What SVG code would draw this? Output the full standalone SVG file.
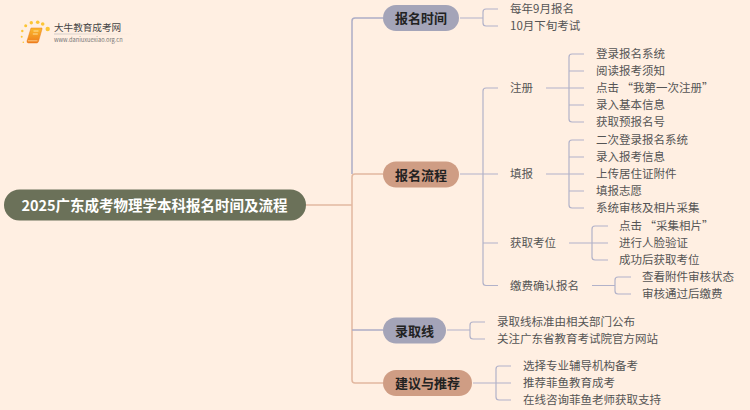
<svg xmlns="http://www.w3.org/2000/svg" width="750" height="410" viewBox="0 0 750 410">
<defs>
<linearGradient id="bk" x1="0" y1="0" x2="0" y2="1"><stop offset="0" stop-color="#fbb92c"/><stop offset="1" stop-color="#ee7c1c"/></linearGradient>
<linearGradient id="ul" x1="0" y1="0" x2="1" y2="0"><stop offset="0" stop-color="#bbb" stop-opacity="0.7"/><stop offset="1" stop-color="#bbb" stop-opacity="0"/></linearGradient>
</defs>
<style>
text{font-family:"Noto Sans CJK SC","Liberation Sans",sans-serif;dominant-baseline:central}
.t{font-size:11.5px;fill:#555}
.b{font-size:13px;font-weight:700;fill:#222;text-anchor:middle}
.c{fill:none;stroke-width:1.2;stroke:#b2b2c9}
.p{fill:none;stroke-width:1.5;stroke:#e2b8a0}
.u{fill:none;stroke-width:1.5;stroke:#adadc6}
</style>
<rect width="750" height="410" fill="#ffefe2"/>
<g id="logo">
<g fill="#fcc534"><circle cx="47.700" cy="29" r="2.200"/><circle cx="42.700" cy="24" r="1.800"/><circle cx="37.700" cy="22.300" r="1.800"/><circle cx="31.300" cy="22.700" r="1.700"/><circle cx="25.700" cy="25.700" r="1.500"/><circle cx="22.300" cy="31" r="1.200"/><circle cx="21.700" cy="36.700" r="1"/><circle cx="23.300" cy="42.300" r="0.800"/></g>
<path d="M31 28H42V29L38.500 41.500Q38 43 36.500 43H28.500Q26.500 43 27 41Z" fill="url(#bk)" stroke="#ea7f1c" stroke-width="0.500"/>
<path d="M33.500 31H38.500M32.800 34H37.800" stroke="#ffe6a8" stroke-width="0.900" fill="none"/>
<path d="M28 40.800H37.500" stroke="#ffd9a0" stroke-width="0.800" fill="none"/>
<text x="54" y="27" font-size="9.600" fill="#444">大牛教育成考网</text>
<rect x="54" y="33.500" width="78" height="1" fill="url(#ul)"/>
<text x="54" y="39" font-size="5.700" fill="#777">www.daniuxuexiao.org.cn</text>
</g>
<g id="connectors">
<path class="p" d="M306 205H352"/>
<path class="u" d="M383 18H355Q352 18 352 21V174"/>
<path class="p" d="M383 174H355Q352 174 352 177V380Q352 383 355 383H383"/>
<path class="u" d="M352 330H383"/>
<path class="c" d="M460 18H483M498 9H486Q483 9 483 12V23Q483 26 486 26H498"/>
<path class="c" d="M460 174H498M498 88H486Q483 88 483 91V282.500Q483 285.500 486 285.500H498M483 243H498"/>
<path class="c" d="M546 88H584M584 54H572Q569 54 569 57V119Q569 122 572 122H584M569 71H584M569 105H584"/>
<path class="c" d="M546 174H584M584 140H572Q569 140 569 143V205Q569 208 572 208H584M569 157H584M569 191H584"/>
<path class="c" d="M569 243H608M608 226H595Q592 226 592 229V257Q592 260 595 260H608"/>
<path class="c" d="M592 285.500H615M631 277H618Q615 277 615 280V291Q615 294 618 294H631"/>
<path class="c" d="M447 330H470M485 322H473Q470 322 470 325V336Q470 339 473 339H485"/>
<path class="c" d="M473 383H511M511 366H499Q496 366 496 369V397Q496 400 499 400H511"/>
</g>
<g id="root"><rect x="4" y="189.500" width="302" height="31" rx="15.500" fill="#6b7159"/><text x="154.500" y="204.500" font-size="14.500" font-weight="700" fill="#fff" text-anchor="middle">2025广东成考物理学本科报名时间及流程</text></g>
<g id="n-time"><rect x="383" y="5" width="76" height="26" rx="13" fill="#a4a4b8"/><text class="b" x="421" y="17.500">报名时间</text></g>
<g id="n-flow"><rect x="383" y="161.500" width="76" height="26" rx="13" fill="#cf9d84"/><text class="b" x="421" y="174">报名流程</text></g>
<g id="n-line"><rect x="383" y="317.500" width="63" height="26" rx="13" fill="#a4a4b8"/><text class="b" x="414.500" y="330">录取线</text></g>
<g id="n-adv"><rect x="383" y="370" width="89" height="26" rx="13" fill="#cf9d84"/><text class="b" x="427.500" y="382.500">建议与推荐</text></g>
<g id="leaves" transform="translate(0,-0.600)">
<text class="t" x="510" y="9">每年9月报名</text>
<text class="t" x="510" y="26">10月下旬考试</text>
<text class="t" x="510" y="88">注册</text>
<text class="t" x="510" y="174">填报</text>
<text class="t" x="510" y="243">获取考位</text>
<text class="t" x="510" y="285.500">缴费确认报名</text>
<text class="t" x="596" y="54">登录报名系统</text>
<text class="t" x="596" y="71">阅读报考须知</text>
<text class="t" x="596" y="88">点击 “我第一次注册”</text>
<text class="t" x="596" y="105">录入基本信息</text>
<text class="t" x="596" y="122">获取预报名号</text>
<text class="t" x="596" y="140">二次登录报名系统</text>
<text class="t" x="596" y="157">录入报考信息</text>
<text class="t" x="596" y="174">上传居住证附件</text>
<text class="t" x="596" y="191">填报志愿</text>
<text class="t" x="596" y="208">系统审核及相片采集</text>
<text class="t" x="619" y="226">点击 “采集相片”</text>
<text class="t" x="619" y="243">进行人脸验证</text>
<text class="t" x="619" y="260">成功后获取考位</text>
<text class="t" x="642" y="277">查看附件审核状态</text>
<text class="t" x="642" y="294">审核通过后缴费</text>
<text class="t" x="497" y="322">录取线标准由相关部门公布</text>
<text class="t" x="497" y="339">关注广东省教育考试院官方网站</text>
<text class="t" x="523" y="366">选择专业辅导机构备考</text>
<text class="t" x="523" y="383">推荐菲鱼教育成考</text>
<text class="t" x="523" y="400">在线咨询菲鱼老师获取支持</text>
</g>
</svg>
